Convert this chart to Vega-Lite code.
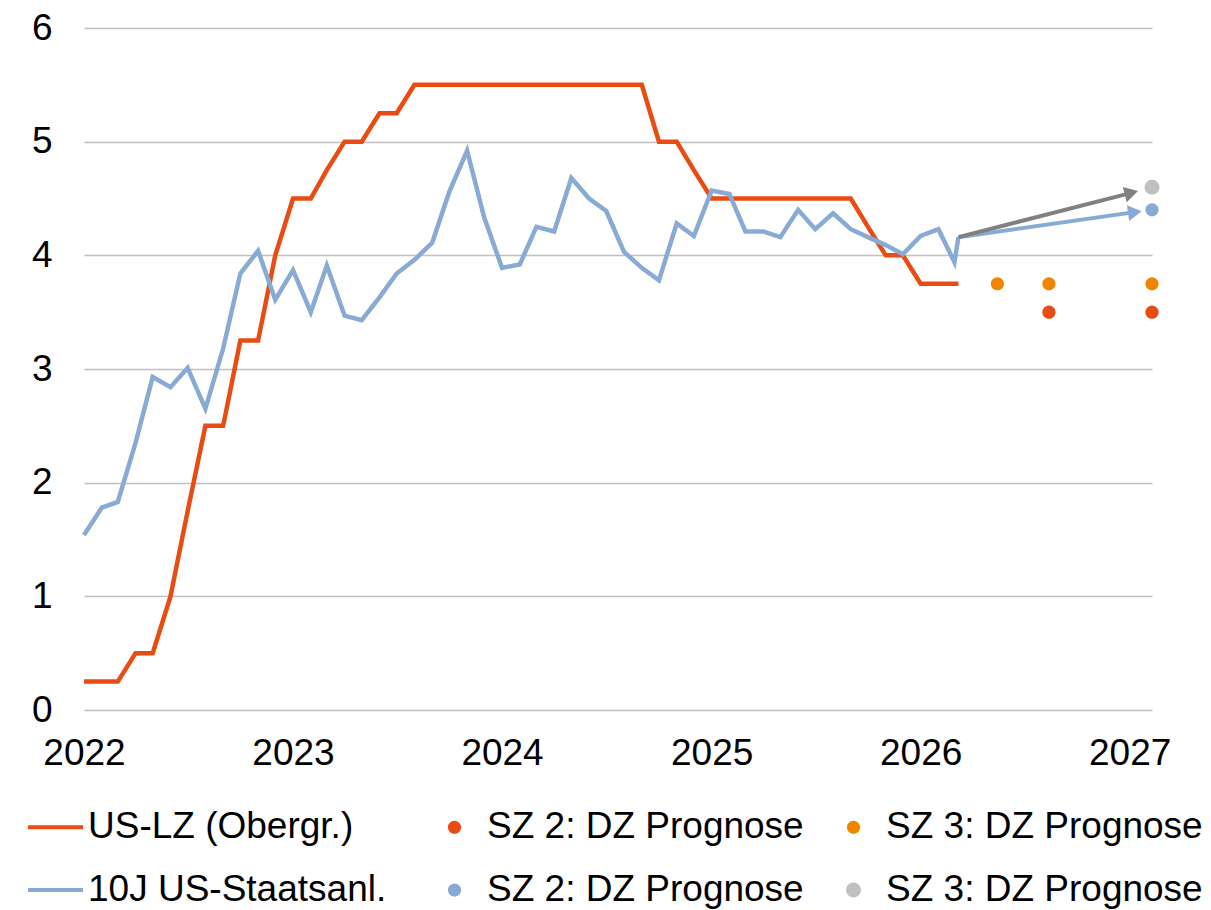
{
  "$schema": "https://vega.github.io/schema/vega-lite/v6.json",
  "width": 1068,
  "height": 682,
  "autosize": {"type": "none"},
  "padding": {"left": 84, "top": 28, "right": 59, "bottom": 200},
  "background": "white",
  "config": {
    "view": {"stroke": null},
    "font": "Liberation Sans",
    "axis": {"labelFont": "Liberation Sans", "labelFontSize": 37, "labelColor": "#000000", "title": null}
  },
  "datasets": {
    "lines": [
      {"series": "US-LZ (Obergr.)", "date": "2022-01-01", "value": 0.25},
      {"series": "US-LZ (Obergr.)", "date": "2022-02-01", "value": 0.25},
      {"series": "US-LZ (Obergr.)", "date": "2022-03-01", "value": 0.25},
      {"series": "US-LZ (Obergr.)", "date": "2022-04-01", "value": 0.5},
      {"series": "US-LZ (Obergr.)", "date": "2022-05-01", "value": 0.5},
      {"series": "US-LZ (Obergr.)", "date": "2022-06-01", "value": 1.0},
      {"series": "US-LZ (Obergr.)", "date": "2022-07-01", "value": 1.75},
      {"series": "US-LZ (Obergr.)", "date": "2022-08-01", "value": 2.5},
      {"series": "US-LZ (Obergr.)", "date": "2022-09-01", "value": 2.5},
      {"series": "US-LZ (Obergr.)", "date": "2022-10-01", "value": 3.25},
      {"series": "US-LZ (Obergr.)", "date": "2022-11-01", "value": 3.25},
      {"series": "US-LZ (Obergr.)", "date": "2022-12-01", "value": 4.0},
      {"series": "US-LZ (Obergr.)", "date": "2023-01-01", "value": 4.5},
      {"series": "US-LZ (Obergr.)", "date": "2023-02-01", "value": 4.5},
      {"series": "US-LZ (Obergr.)", "date": "2023-03-01", "value": 4.75},
      {"series": "US-LZ (Obergr.)", "date": "2023-04-01", "value": 5.0},
      {"series": "US-LZ (Obergr.)", "date": "2023-05-01", "value": 5.0},
      {"series": "US-LZ (Obergr.)", "date": "2023-06-01", "value": 5.25},
      {"series": "US-LZ (Obergr.)", "date": "2023-07-01", "value": 5.25},
      {"series": "US-LZ (Obergr.)", "date": "2023-08-01", "value": 5.5},
      {"series": "US-LZ (Obergr.)", "date": "2023-09-01", "value": 5.5},
      {"series": "US-LZ (Obergr.)", "date": "2023-10-01", "value": 5.5},
      {"series": "US-LZ (Obergr.)", "date": "2023-11-01", "value": 5.5},
      {"series": "US-LZ (Obergr.)", "date": "2023-12-01", "value": 5.5},
      {"series": "US-LZ (Obergr.)", "date": "2024-01-01", "value": 5.5},
      {"series": "US-LZ (Obergr.)", "date": "2024-02-01", "value": 5.5},
      {"series": "US-LZ (Obergr.)", "date": "2024-03-01", "value": 5.5},
      {"series": "US-LZ (Obergr.)", "date": "2024-04-01", "value": 5.5},
      {"series": "US-LZ (Obergr.)", "date": "2024-05-01", "value": 5.5},
      {"series": "US-LZ (Obergr.)", "date": "2024-06-01", "value": 5.5},
      {"series": "US-LZ (Obergr.)", "date": "2024-07-01", "value": 5.5},
      {"series": "US-LZ (Obergr.)", "date": "2024-08-01", "value": 5.5},
      {"series": "US-LZ (Obergr.)", "date": "2024-09-01", "value": 5.5},
      {"series": "US-LZ (Obergr.)", "date": "2024-10-01", "value": 5.0},
      {"series": "US-LZ (Obergr.)", "date": "2024-11-01", "value": 5.0},
      {"series": "US-LZ (Obergr.)", "date": "2024-12-01", "value": 4.75},
      {"series": "US-LZ (Obergr.)", "date": "2025-01-01", "value": 4.5},
      {"series": "US-LZ (Obergr.)", "date": "2025-02-01", "value": 4.5},
      {"series": "US-LZ (Obergr.)", "date": "2025-03-01", "value": 4.5},
      {"series": "US-LZ (Obergr.)", "date": "2025-04-01", "value": 4.5},
      {"series": "US-LZ (Obergr.)", "date": "2025-05-01", "value": 4.5},
      {"series": "US-LZ (Obergr.)", "date": "2025-06-01", "value": 4.5},
      {"series": "US-LZ (Obergr.)", "date": "2025-07-01", "value": 4.5},
      {"series": "US-LZ (Obergr.)", "date": "2025-08-01", "value": 4.5},
      {"series": "US-LZ (Obergr.)", "date": "2025-09-01", "value": 4.5},
      {"series": "US-LZ (Obergr.)", "date": "2025-10-01", "value": 4.25},
      {"series": "US-LZ (Obergr.)", "date": "2025-11-01", "value": 4.0},
      {"series": "US-LZ (Obergr.)", "date": "2025-12-01", "value": 4.0},
      {"series": "US-LZ (Obergr.)", "date": "2026-01-01", "value": 3.75},
      {"series": "US-LZ (Obergr.)", "date": "2026-02-01", "value": 3.75},
      {"series": "US-LZ (Obergr.)", "date": "2026-03-01", "value": 3.75},
      {"series": "US-LZ (Obergr.)", "date": "2026-03-08", "value": 3.75},
      {"series": "10J US-Staatsanl.", "date": "2022-01-01", "value": 1.54},
      {"series": "10J US-Staatsanl.", "date": "2022-02-01", "value": 1.78},
      {"series": "10J US-Staatsanl.", "date": "2022-03-01", "value": 1.83},
      {"series": "10J US-Staatsanl.", "date": "2022-04-01", "value": 2.35},
      {"series": "10J US-Staatsanl.", "date": "2022-05-01", "value": 2.93},
      {"series": "10J US-Staatsanl.", "date": "2022-06-01", "value": 2.84},
      {"series": "10J US-Staatsanl.", "date": "2022-07-01", "value": 3.01},
      {"series": "10J US-Staatsanl.", "date": "2022-08-01", "value": 2.65},
      {"series": "10J US-Staatsanl.", "date": "2022-09-01", "value": 3.18},
      {"series": "10J US-Staatsanl.", "date": "2022-10-01", "value": 3.84},
      {"series": "10J US-Staatsanl.", "date": "2022-11-01", "value": 4.04},
      {"series": "10J US-Staatsanl.", "date": "2022-12-01", "value": 3.61},
      {"series": "10J US-Staatsanl.", "date": "2023-01-01", "value": 3.87},
      {"series": "10J US-Staatsanl.", "date": "2023-02-01", "value": 3.5},
      {"series": "10J US-Staatsanl.", "date": "2023-03-01", "value": 3.91},
      {"series": "10J US-Staatsanl.", "date": "2023-04-01", "value": 3.47},
      {"series": "10J US-Staatsanl.", "date": "2023-05-01", "value": 3.43},
      {"series": "10J US-Staatsanl.", "date": "2023-06-01", "value": 3.63},
      {"series": "10J US-Staatsanl.", "date": "2023-07-01", "value": 3.84},
      {"series": "10J US-Staatsanl.", "date": "2023-08-01", "value": 3.96},
      {"series": "10J US-Staatsanl.", "date": "2023-09-01", "value": 4.11},
      {"series": "10J US-Staatsanl.", "date": "2023-10-01", "value": 4.56},
      {"series": "10J US-Staatsanl.", "date": "2023-11-01", "value": 4.92},
      {"series": "10J US-Staatsanl.", "date": "2023-12-01", "value": 4.33},
      {"series": "10J US-Staatsanl.", "date": "2024-01-01", "value": 3.89},
      {"series": "10J US-Staatsanl.", "date": "2024-02-01", "value": 3.92},
      {"series": "10J US-Staatsanl.", "date": "2024-03-01", "value": 4.25},
      {"series": "10J US-Staatsanl.", "date": "2024-04-01", "value": 4.21},
      {"series": "10J US-Staatsanl.", "date": "2024-05-01", "value": 4.68},
      {"series": "10J US-Staatsanl.", "date": "2024-06-01", "value": 4.5},
      {"series": "10J US-Staatsanl.", "date": "2024-07-01", "value": 4.39},
      {"series": "10J US-Staatsanl.", "date": "2024-08-01", "value": 4.03},
      {"series": "10J US-Staatsanl.", "date": "2024-09-01", "value": 3.89},
      {"series": "10J US-Staatsanl.", "date": "2024-10-01", "value": 3.78},
      {"series": "10J US-Staatsanl.", "date": "2024-11-01", "value": 4.28},
      {"series": "10J US-Staatsanl.", "date": "2024-12-01", "value": 4.17},
      {"series": "10J US-Staatsanl.", "date": "2025-01-01", "value": 4.57},
      {"series": "10J US-Staatsanl.", "date": "2025-02-01", "value": 4.54},
      {"series": "10J US-Staatsanl.", "date": "2025-03-01", "value": 4.21},
      {"series": "10J US-Staatsanl.", "date": "2025-04-01", "value": 4.21},
      {"series": "10J US-Staatsanl.", "date": "2025-05-01", "value": 4.16},
      {"series": "10J US-Staatsanl.", "date": "2025-06-01", "value": 4.4},
      {"series": "10J US-Staatsanl.", "date": "2025-07-01", "value": 4.23},
      {"series": "10J US-Staatsanl.", "date": "2025-08-01", "value": 4.37},
      {"series": "10J US-Staatsanl.", "date": "2025-09-01", "value": 4.23},
      {"series": "10J US-Staatsanl.", "date": "2025-10-01", "value": 4.16},
      {"series": "10J US-Staatsanl.", "date": "2025-11-01", "value": 4.09},
      {"series": "10J US-Staatsanl.", "date": "2025-12-01", "value": 4.01},
      {"series": "10J US-Staatsanl.", "date": "2026-01-01", "value": 4.17},
      {"series": "10J US-Staatsanl.", "date": "2026-02-01", "value": 4.23},
      {"series": "10J US-Staatsanl.", "date": "2026-03-01", "value": 3.94},
      {"series": "10J US-Staatsanl.", "date": "2026-03-08", "value": 4.16}
    ],
    "arrows": [
      {"arrow": "blue", "date": "2026-03-08", "value": 4.16, "date_end": "2027-01-10", "value_end": 4.38},
      {"arrow": "gray", "date": "2026-03-08", "value": 4.16, "date_end": "2027-01-04", "value_end": 4.55}
    ],
    "dots": [
      {"series": "SZ 3: DZ Prognose", "date": "2026-05-15", "value": 3.75},
      {"series": "SZ 3: DZ Prognose", "date": "2026-08-13", "value": 3.75},
      {"series": "SZ 3: DZ Prognose", "date": "2027-02-09", "value": 3.75},
      {"series": "SZ 2: DZ Prognose", "date": "2026-08-13", "value": 3.5},
      {"series": "SZ 2: DZ Prognose", "date": "2027-02-09", "value": 3.5},
      {"series": "SZ 2: DZ Prognose ", "date": "2027-02-09", "value": 4.4},
      {"series": "SZ 3: DZ Prognose ", "date": "2027-02-09", "value": 4.6}
    ]
  },
  "layer": [
    {
      "data": {"name": "lines"},
      "transform": [{"filter": {"field": "series", "equal": "US-LZ (Obergr.)"}}],
      "mark": {"type": "line", "strokeWidth": 4.5, "color": "#E84C12"},
      "encoding": {
        "x": {
          "field": "date", "type": "temporal",
          "scale": {"type": "utc", "domain": [{"year": 2022, "month": 1, "date": 1, "utc": true}, {"year": 2027, "month": 2, "date": 9, "utc": true}]},
          "axis": {
            "values": [
              {"year": 2022, "month": 1, "date": 1, "utc": true},
              {"year": 2023, "month": 1, "date": 1, "utc": true},
              {"year": 2024, "month": 1, "date": 1, "utc": true},
              {"year": 2025, "month": 1, "date": 1, "utc": true},
              {"year": 2026, "month": 1, "date": 1, "utc": true},
              {"year": 2027, "month": 1, "date": 1, "utc": true}
            ],
            "format": "%Y", "domain": false, "ticks": false, "grid": false,
            "labelPadding": 25, "labelFlush": false, "labelOverlap": false
          }
        },
        "y": {
          "field": "value", "type": "quantitative",
          "scale": {"domain": [0, 6], "nice": false, "zero": true},
          "axis": {
            "values": [0, 1, 2, 3, 4, 5, 6], "format": "d", "domain": false, "ticks": false,
            "grid": true, "gridColor": "#c0c0c0", "gridWidth": 1.5, "labelPadding": 32
          }
        }
      }
    },
    {
      "data": {"name": "lines"},
      "transform": [{"filter": {"field": "series", "equal": "10J US-Staatsanl."}}],
      "mark": {"type": "line", "strokeWidth": 4.5, "color": "#88AAD4"},
      "encoding": {
        "x": {"field": "date", "type": "temporal"},
        "y": {"field": "value", "type": "quantitative"}
      }
    },
    {
      "data": {"name": "arrows"},
      "transform": [{"filter": {"field": "arrow", "equal": "blue"}}],
      "mark": {"type": "rule", "strokeWidth": 4, "color": "#88AAD4"},
      "encoding": {
        "x": {"field": "date", "type": "temporal"},
        "x2": {"field": "date_end"},
        "y": {"field": "value", "type": "quantitative"},
        "y2": {"field": "value_end"}
      }
    },
    {
      "data": {"name": "arrows"},
      "transform": [{"filter": {"field": "arrow", "equal": "blue"}}],
      "mark": {"type": "point", "shape": "triangle-right", "angle": -8, "size": 250, "filled": true, "opacity": 1, "color": "#88AAD4"},
      "encoding": {
        "x": {"field": "date_end", "type": "temporal"},
        "y": {"field": "value_end", "type": "quantitative"}
      }
    },
    {
      "data": {"name": "arrows"},
      "transform": [{"filter": {"field": "arrow", "equal": "gray"}}],
      "mark": {"type": "rule", "strokeWidth": 4, "color": "#808080"},
      "encoding": {
        "x": {"field": "date", "type": "temporal"},
        "x2": {"field": "date_end"},
        "y": {"field": "value", "type": "quantitative"},
        "y2": {"field": "value_end"}
      }
    },
    {
      "data": {"name": "arrows"},
      "transform": [{"filter": {"field": "arrow", "equal": "gray"}}],
      "mark": {"type": "point", "shape": "triangle-right", "angle": -14.5, "size": 250, "filled": true, "opacity": 1, "color": "#808080"},
      "encoding": {
        "x": {"field": "date_end", "type": "temporal"},
        "y": {"field": "value_end", "type": "quantitative"}
      }
    },
    {
      "data": {"name": "dots"},
      "mark": {"type": "point", "filled": true, "opacity": 1, "size": 3025, "strokeWidth": 0},
      "encoding": {
        "x": {"field": "date", "type": "temporal"},
        "y": {"field": "value", "type": "quantitative"},
        "color": {
          "field": "series", "type": "nominal",
          "scale": {
            "domain": ["US-LZ (Obergr.)", "10J US-Staatsanl.", "SZ 2: DZ Prognose", "SZ 2: DZ Prognose ", "SZ 3: DZ Prognose", "SZ 3: DZ Prognose "],
            "range": ["#E84C12", "#88AAD4", "#E84C12", "#88AAD4", "#F28500", "#C0C0C0"]
          },
          "legend": {
            "title": null, "orient": "none", "legendX": -56, "legendY": 771.5,
            "columns": 3, "gridAlign": "all", "columnPadding": 22, "rowPadding": 17,
            "symbolSize": 3025, "symbolStrokeWidth": 0, "symbolOpacity": 1,
            "labelFont": "Liberation Sans", "labelFontSize": 37, "labelColor": "#000000",
            "labelOffset": 5, "labelLimit": 600, "padding": 0
          }
        },
        "shape": {
          "field": "series", "type": "nominal",
          "scale": {
            "domain": ["US-LZ (Obergr.)", "10J US-Staatsanl.", "SZ 2: DZ Prognose", "SZ 2: DZ Prognose ", "SZ 3: DZ Prognose", "SZ 3: DZ Prognose "],
            "range": [
              "M-1,-0.073H1V0.073H-1Z",
              "M-1,-0.073H1V0.073H-1Z",
              "M0.24,0A0.24,0.24,0,1,1,-0.24,0A0.24,0.24,0,1,1,0.24,0Z",
              "M0.24,0A0.24,0.24,0,1,1,-0.24,0A0.24,0.24,0,1,1,0.24,0Z",
              "M0.24,0A0.24,0.24,0,1,1,-0.24,0A0.24,0.24,0,1,1,0.24,0Z",
              "M0.27,0A0.27,0.27,0,1,1,-0.27,0A0.27,0.27,0,1,1,0.27,0Z"
            ]
          },
          "legend": {
            "title": null, "orient": "none", "legendX": -56, "legendY": 771.5,
            "columns": 3, "gridAlign": "all", "columnPadding": 22, "rowPadding": 17,
            "symbolSize": 3025, "symbolStrokeWidth": 0, "symbolOpacity": 1,
            "labelFont": "Liberation Sans", "labelFontSize": 37, "labelColor": "#000000",
            "labelOffset": 5, "labelLimit": 600, "padding": 0
          }
        }
      }
    }
  ]
}
